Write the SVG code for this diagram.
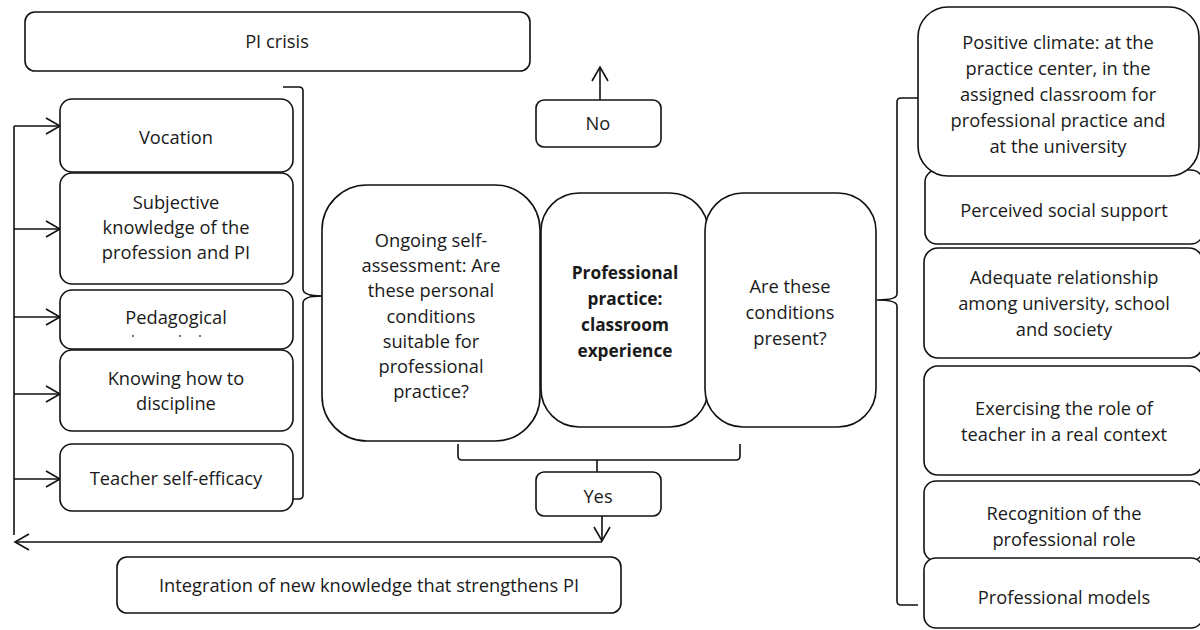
<svg xmlns="http://www.w3.org/2000/svg" width="1200" height="630" viewBox="0 0 1200 630">
<defs>
<marker id="arr" markerUnits="userSpaceOnUse" markerWidth="18" markerHeight="20" refX="15" refY="9" orient="auto">
<path d="M1,1 L15,9 L1,17" fill="none" stroke="#111" stroke-width="1.6"/>
</marker>
</defs>
<style>
.box{fill:#fff;stroke:#111;stroke-width:1.6}
.ln{fill:none;stroke:#111;stroke-width:1.6}
text{font-family:"Open Sans","Liberation Sans",Arial,sans-serif;font-size:18.3px;fill:#1a1a1a;text-anchor:middle}
.b{font-weight:bold;font-size:17.3px}
</style>
<rect width="1200" height="630" fill="#fff"/>
<g id="connectors">
<path class="ln" d="M14,535 V126"/>
<path class="ln" d="M14,126 H60" marker-end="url(#arr)"/>
<path class="ln" d="M14,229 H60" marker-end="url(#arr)"/>
<path class="ln" d="M14,317 H60" marker-end="url(#arr)"/>
<path class="ln" d="M14,394 H60" marker-end="url(#arr)"/>
<path class="ln" d="M14,479 H60" marker-end="url(#arr)"/>
<path class="ln" d="M602,542 H15" marker-end="url(#arr)"/>
<path class="ln" d="M602,516 V541" marker-end="url(#arr)"/>
<path class="ln" d="M600,100 V67" marker-end="url(#arr)"/>
<path class="ln" d="M458,444 V456 Q458,460 462,460 H736 Q740,460 740,456 V444"/>
<path class="ln" d="M597,460 V472"/>
<path class="ln" d="M283,87 H299 Q303,87 303,91 V289 Q303,296 322,296 Q303,296 303,303 V495 Q303,499 299,499 H286"/>
<path class="ln" d="M918,98 H901 Q897,98 897,102 V294 Q897,300 877,300 Q897,300 897,306 V601 Q897,605 901,605 H918"/>
</g>
<g id="pi-crisis"><rect class="box" x="25" y="12" width="505" height="59" rx="10"/><text x="277" y="48">PI crisis</text></g>
<g id="no"><rect class="box" x="536" y="100" width="125" height="47" rx="8"/><text x="598" y="130">No</text></g>
<g id="vocation"><rect class="box" x="60" y="99" width="233" height="73" rx="12"/><text x="176" y="144">Vocation</text></g>
<g id="subjective"><rect class="box" x="60" y="173" width="233" height="111" rx="12"/><text x="176" y="209">Subjective</text><text x="176" y="234">knowledge of the</text><text x="176" y="259">profession and PI</text></g>
<g id="pedagogical"><rect class="box" x="60" y="290" width="233" height="59" rx="12"/><text x="176" y="324">Pedagogical</text><circle cx="133" cy="336" r="0.9" fill="#333"/><circle cx="180" cy="336" r="0.9" fill="#333"/><circle cx="200" cy="336" r="0.9" fill="#333"/></g>
<g id="knowing"><rect class="box" x="60" y="350" width="233" height="81" rx="12"/><text x="176" y="385">Knowing how to</text><text x="176" y="410">discipline</text></g>
<g id="self-efficacy"><rect class="box" x="60" y="444" width="233" height="67" rx="12"/><text x="176" y="485">Teacher self-efficacy</text></g>
<g id="ongoing"><rect class="box" x="322" y="185" width="218" height="256" rx="45"/><text x="431" y="247">Ongoing self-</text><text x="431" y="272">assessment: Are</text><text x="431" y="297">these personal</text><text x="431" y="323">conditions</text><text x="431" y="348">suitable for</text><text x="431" y="373">professional</text><text x="431" y="398">practice?</text></g>
<g id="practice"><rect class="box" x="541" y="193" width="167" height="234" rx="38"/><text class="b" x="625" y="279">Professional</text><text class="b" x="625" y="305">practice:</text><text class="b" x="625" y="331">classroom</text><text class="b" x="625" y="357">experience</text></g>
<g id="present"><rect class="box" x="705" y="193" width="171" height="234" rx="38"/><text x="790" y="293">Are these</text><text x="790" y="319">conditions</text><text x="790" y="345">present?</text></g>
<g id="yes"><rect class="box" x="536" y="472" width="125" height="44" rx="8"/><text x="598" y="503">Yes</text></g>
<g id="integration"><rect class="box" x="117" y="557" width="504" height="56" rx="10"/><text x="369" y="592">Integration of new knowledge that strengthens PI</text></g>
<g id="social-support"><rect class="box" x="925" y="170" width="278" height="74" rx="12"/><text x="1064" y="217">Perceived social support</text></g>
<g id="climate"><rect class="box" x="918" y="7" width="281" height="169" rx="30"/><text x="1058" y="49">Positive climate: at the</text><text x="1058" y="75">practice center, in the</text><text x="1058" y="101">assigned classroom for</text><text x="1058" y="127">professional practice and</text><text x="1058" y="153">at the university</text></g>
<g id="relationship"><rect class="box" x="924" y="248" width="279" height="110" rx="14"/><text x="1064" y="284">Adequate relationship</text><text x="1064" y="310">among university, school</text><text x="1064" y="336">and society</text></g>
<g id="role"><rect class="box" x="924" y="366" width="279" height="109" rx="14"/><text x="1064" y="415">Exercising the role of</text><text x="1064" y="441">teacher in a real context</text></g>
<g id="recognition"><rect class="box" x="924" y="481" width="279" height="80" rx="12"/><text x="1064" y="520">Recognition of the</text><text x="1064" y="546">professional role</text></g>
<g id="models"><rect class="box" x="924" y="558" width="279" height="70" rx="12"/><text x="1064" y="604">Professional models</text></g>
</svg>
